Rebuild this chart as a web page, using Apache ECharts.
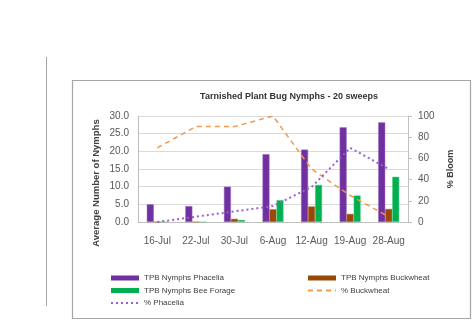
<!DOCTYPE html>
<html>
<head>
<meta charset="utf-8">
<script src="https://cdn.jsdelivr.net/npm/echarts@6/dist/echarts.min.js"></script>
<style>
html,body{margin:0;padding:0;background:#fff;}
#chart{width:474px;height:332px;}
</style>
</head>
<body>
<div id="chart"></div>
<script>
var categories = ['16-Jul', '22-Jul', '30-Jul', '6-Aug', '12-Aug', '19-Aug', '28-Aug'];
var nymphsPhacelia = [5.0, 4.5, 10.0, 19.2, 20.5, 26.8, 28.2];
var nymphsBuckwheat = [0, 0, 0.9, 3.6, 4.4, 2.3, 3.7];
var nymphsBeeForage = [0, 0, 0.6, 6.2, 10.5, 7.5, 12.8];
var pctBuckwheat = [70, 90, 90, 100, 50, 25, 5];
var pctPhacelia = [0, 5, 10, 15, 33, 70, 50];

var chart = echarts.init(document.getElementById('chart'), null, {renderer: 'canvas'});
var font = 'Liberation Sans, Arial, sans-serif';
var legendText = {fontFamily: font, fontSize: 8, color: '#404040'};
var option = {
  backgroundColor: '#ffffff',
  animation: false,
  title: {
    text: 'Tarnished Plant Bug Nymphs - 20 sweeps',
    left: 284, top: 87, textAlign: 'center',
    textStyle: {fontFamily: font, fontSize: 9, fontWeight: 'bold', color: '#333333'}
  },
  graphic: [
    {type: 'rect', shape: {x: 72.5, y: 80.5, width: 398, height: 238}, style: {fill: 'none', stroke: '#a6a6a6', lineWidth: 1.2}, silent: true},
    {type: 'line', shape: {x1: 46.5, y1: 57, x2: 46.5, y2: 306}, style: {stroke: '#a6a6a6', lineWidth: 1}, silent: true},
    {type: 'text', x: 96, y: 183, rotation: Math.PI / 2,
      style: {text: 'Average Number of Nymphs', fontFamily: font, fontSize: 9.5, fontWeight: 'bold', fill: '#404040', align: 'center', verticalAlign: 'middle'}}
  ],
  legend: [
    {data: [
        {name: 'TPB Nymphs Phacelia', icon: 'rect'},
        {name: 'TPB Nymphs Bee Forage', icon: 'rect'},
        {name: '% Phacelia', itemStyle: {opacity: 0}}
      ], orient: 'vertical', left: 110, top: 274,
      itemWidth: 28, itemHeight: 5, itemGap: 4.5, padding: 0,
      itemStyle: {borderWidth: 0},
      textStyle: legendText},
    {data: [
        {name: 'TPB Nymphs Buckwheat', icon: 'rect'},
        {name: '% Buckwheat', itemStyle: {opacity: 0}}
      ], orient: 'vertical', left: 307, top: 274,
      itemWidth: 28, itemHeight: 5, itemGap: 4.5, padding: 0,
      itemStyle: {borderWidth: 0},
      textStyle: legendText}
  ],
  grid: {left: 138, right: 66, top: 116, bottom: 110, containLabel: false},
  xAxis: {
    type: 'category', data: categories,
    axisLine: {lineStyle: {color: '#bfbfbf'}},
    axisTick: {show: false},
    axisLabel: {interval: 0, fontFamily: font, fontSize: 10, color: '#595959', margin: 14}
  },
  yAxis: [
    {type: 'value', min: 0, max: 30, interval: 5,
      axisLine: {show: true, lineStyle: {color: '#bfbfbf'}},
      axisTick: {show: false},
      splitLine: {lineStyle: {color: '#d9d9d9'}},
      axisLabel: {fontFamily: font, fontSize: 10, color: '#595959', margin: 9,
        formatter: function (v) { return v.toFixed(1); }}},
    {type: 'value', min: 0, max: 100, interval: 20, position: 'right',
      name: '% Bloom', nameLocation: 'middle', nameRotate: 90, nameGap: 38,
      nameTextStyle: {fontFamily: font, fontSize: 9, fontWeight: 'bold', color: '#404040'},
      axisLine: {show: true, lineStyle: {color: '#bfbfbf'}},
      axisTick: {show: true, length: 4, lineStyle: {color: '#bfbfbf'}},
      splitLine: {show: false},
      axisLabel: {fontFamily: font, fontSize: 10, color: '#595959', margin: 10}}
  ],
  series: [
    {name: 'TPB Nymphs Phacelia', type: 'bar', data: nymphsPhacelia, barWidth: 7, barGap: '0%',
      itemStyle: {color: '#7030a0', borderColor: '#9a6cc0', borderWidth: 0.5}},
    {name: 'TPB Nymphs Buckwheat', type: 'bar', data: nymphsBuckwheat, barWidth: 7, barGap: '0%',
      itemStyle: {color: '#984807', borderColor: '#b8773f', borderWidth: 0.5}},
    {name: 'TPB Nymphs Bee Forage', type: 'bar', data: nymphsBeeForage, barWidth: 7, barGap: '0%',
      itemStyle: {color: '#00b050', borderColor: '#5fd08f', borderWidth: 0.5}},
    {name: '% Buckwheat', type: 'line', yAxisIndex: 1, data: pctBuckwheat, symbol: 'none',
      lineStyle: {color: '#f79646', width: 1.5, type: [5, 4]}, itemStyle: {color: '#f79646'}, z: 5},
    {name: '% Phacelia', type: 'line', yAxisIndex: 1, data: pctPhacelia, symbol: 'none',
      lineStyle: {color: '#9b5fd0', width: 2, type: [2, 3]}, itemStyle: {color: '#9b5fd0'}, z: 5}
  ]
};
chart.setOption(option);
</script>
</body>
</html>
